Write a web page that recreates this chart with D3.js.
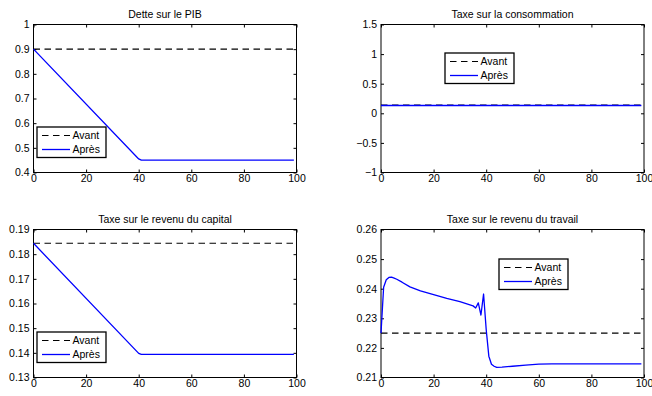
<!DOCTYPE html>
<html lang="fr">
<head>
  <meta charset="UTF-8"/>
  <title>Politique budgétaire</title>
  <script src="https://d3js.org/d3.v7.min.js"></script>
  <style>
    body { margin: 0; background: #fff; }
    svg text { font-family: "Liberation Sans", Arial, Helvetica, sans-serif; font-size: 10.5px; fill: #000; }
  </style>
</head>
<body>
<script>

  // horizon (periodes)
  var horizon = [0, 99];
  var xTicks = [0, 20, 40, 60, 80, 100];

  // Dette sur le PIB
  var detteAvant = [0.9, 0.9];
  var detteApresT = [0, 40, 41, 99];
  var detteApres = [0.9, 0.455, 0.45, 0.45];
  var detteTicks = [0.4, 0.5, 0.6, 0.7, 0.8, 0.9, 1];

  // Taxe sur la consommation
  var consoAvant = [0.138, 0.138];
  var consoApresT = [0, 99];
  var consoApres = [0.132, 0.132];
  var consoTicks = [-1, -0.5, 0, 0.5, 1, 1.5];

  // Taxe sur le revenu du capital
  var capitalAvant = [0.1844, 0.1844];
  var capitalApresT = [0, 40, 41, 99];
  var capitalApres = [0.1844, 0.1398, 0.1394, 0.1394];
  var capitalTicks = [0.13, 0.14, 0.15, 0.16, 0.17, 0.18, 0.19];

  // Taxe sur le revenu du travail
  var travailAvant = [0.225, 0.225];
  var travailApresT = [0, 1, 2, 3, 4, 5, 6, 8, 11, 15, 20, 25, 30, 35, 36, 37, 38, 39, 40, 41, 42, 43, 44, 46, 50, 55, 60, 65, 70, 99];
  var travailApres = [0.225, 0.2405, 0.2430, 0.2438, 0.2439, 0.2436, 0.2432, 0.2422, 0.2406, 0.2393, 0.2380, 0.2367, 0.2356, 0.2342,
                      0.2335, 0.2352, 0.2311, 0.2382, 0.2262, 0.2172, 0.2145, 0.2138, 0.2134, 0.2135, 0.2138, 0.2142, 0.2145, 0.2146, 0.2146, 0.2146];
  var travailTicks = [0.21, 0.22, 0.23, 0.24, 0.25, 0.26];

  var legendLabels = ["Avant", "Après"];

  var w = 652, h = 396;
  var pw = 263, ph = 148;
  var fmt = d3.format("~g");

  var panels = [
    { title: "Dette sur le PIB", x0: 33.5, y0: 24.5, avant: detteAvant, apresT: detteApresT, apres: detteApres,
      ticks: detteTicks, leg: [3.5, 102.5] },
    { title: "Taxe sur la consommation", x0: 381, y0: 24.5, avant: consoAvant, apresT: consoApresT, apres: consoApres,
      ticks: consoTicks, leg: [64, 28.5] },
    { title: "Taxe sur le revenu du capital", x0: 33.5, y0: 229.5, avant: capitalAvant, apresT: capitalApresT, apres: capitalApres,
      ticks: capitalTicks, leg: [3.5, 102.5] },
    { title: "Taxe sur le revenu du travail", x0: 381, y0: 229.5, avant: travailAvant, apresT: travailApresT, apres: travailApres,
      ticks: travailTicks, leg: [118, 29.5] }
  ];

  var svg = d3.select("body")
              .append("svg")
              .attr("width", w)
              .attr("height", h);

  svg.append("rect").attr("width", w).attr("height", h).attr("fill", "#fff");

  panels.forEach(function(p) {

    var xScale = d3.scaleLinear()
            .domain([0, 100])
            .range([0, pw]);

    var yScale = d3.scaleLinear()
            .domain([p.ticks[0], p.ticks[p.ticks.length - 1]])
            .range([ph, 0]);

    var g = svg.append("g")
               .attr("transform", "translate(" + p.x0 + "," + p.y0 + ")");

    // ticks inward on the four sides
    g.append("g")
      .attr("transform", "translate(0," + ph + ")")
      .call(d3.axisBottom(xScale).tickValues(xTicks).tickSizeInner(-3).tickSizeOuter(0).tickPadding(2).tickFormat(fmt));
    g.append("g")
      .call(d3.axisTop(xScale).tickValues(xTicks).tickSizeInner(-3).tickSizeOuter(0).tickFormat(""));
    g.append("g")
      .call(d3.axisLeft(yScale).tickValues(p.ticks).tickSizeInner(-3).tickSizeOuter(0).tickPadding(4).tickFormat(fmt));
    g.append("g")
      .attr("transform", "translate(" + pw + ",0)")
      .call(d3.axisRight(yScale).tickValues(p.ticks).tickSizeInner(-3).tickSizeOuter(0).tickFormat(""));

    g.selectAll(".domain").remove();
    g.selectAll(".tick line").attr("stroke", "#000");
    g.selectAll(".tick text").attr("fill", "#000").style("font-size", "10.5px");

    g.append("rect")
      .attr("width", pw)
      .attr("height", ph)
      .attr("fill", "none")
      .attr("stroke", "#000")
      .attr("stroke-width", 1);

    var line = d3.line()
            .x(function(d) { return xScale(d[0]); })
            .y(function(d) { return yScale(d[1]); });

    g.append("path")
      .datum(horizon.map(function(t, i) { return [t, p.avant[i]]; }))
      .attr("d", line)
      .attr("fill", "none")
      .attr("stroke", "#000")
      .attr("stroke-width", 1.1)
      .attr("stroke-dasharray", "6.5,4.5");

    g.append("path")
      .datum(p.apresT.map(function(t, i) { return [t, p.apres[i]]; }))
      .attr("d", line)
      .attr("fill", "none")
      .attr("stroke", "#0000ff")
      .attr("stroke-width", 1.3)
      .attr("stroke-linejoin", "round");

    g.append("text")
      .attr("x", pw / 2)
      .attr("y", -7)
      .attr("text-anchor", "middle")
      .style("font-size", "10.5px")
      .text(p.title);

    // legende
    var lg = g.append("g")
              .attr("transform", "translate(" + p.leg[0] + "," + p.leg[1] + ")");
    lg.append("rect")
      .attr("width", 69)
      .attr("height", 30.5)
      .attr("fill", "#fff")
      .attr("stroke", "#000")
      .attr("stroke-width", 1.3);
    legendLabels.forEach(function(lab, i) {
      var yy = 8.5 + i * 14;
      lg.append("line")
        .attr("x1", 5).attr("x2", 33)
        .attr("y1", yy).attr("y2", yy)
        .attr("stroke", i === 0 ? "#000" : "#0000ff")
        .attr("stroke-width", i === 0 ? 1.1 : 1.3)
        .attr("stroke-dasharray", i === 0 ? "6.5,4.5" : null);
      lg.append("text")
        .attr("x", 35.5)
        .attr("y", yy + 3.8)
        .style("font-size", "10.5px")
        .text(lab);
    });
  });

</script>
</body>
</html>
